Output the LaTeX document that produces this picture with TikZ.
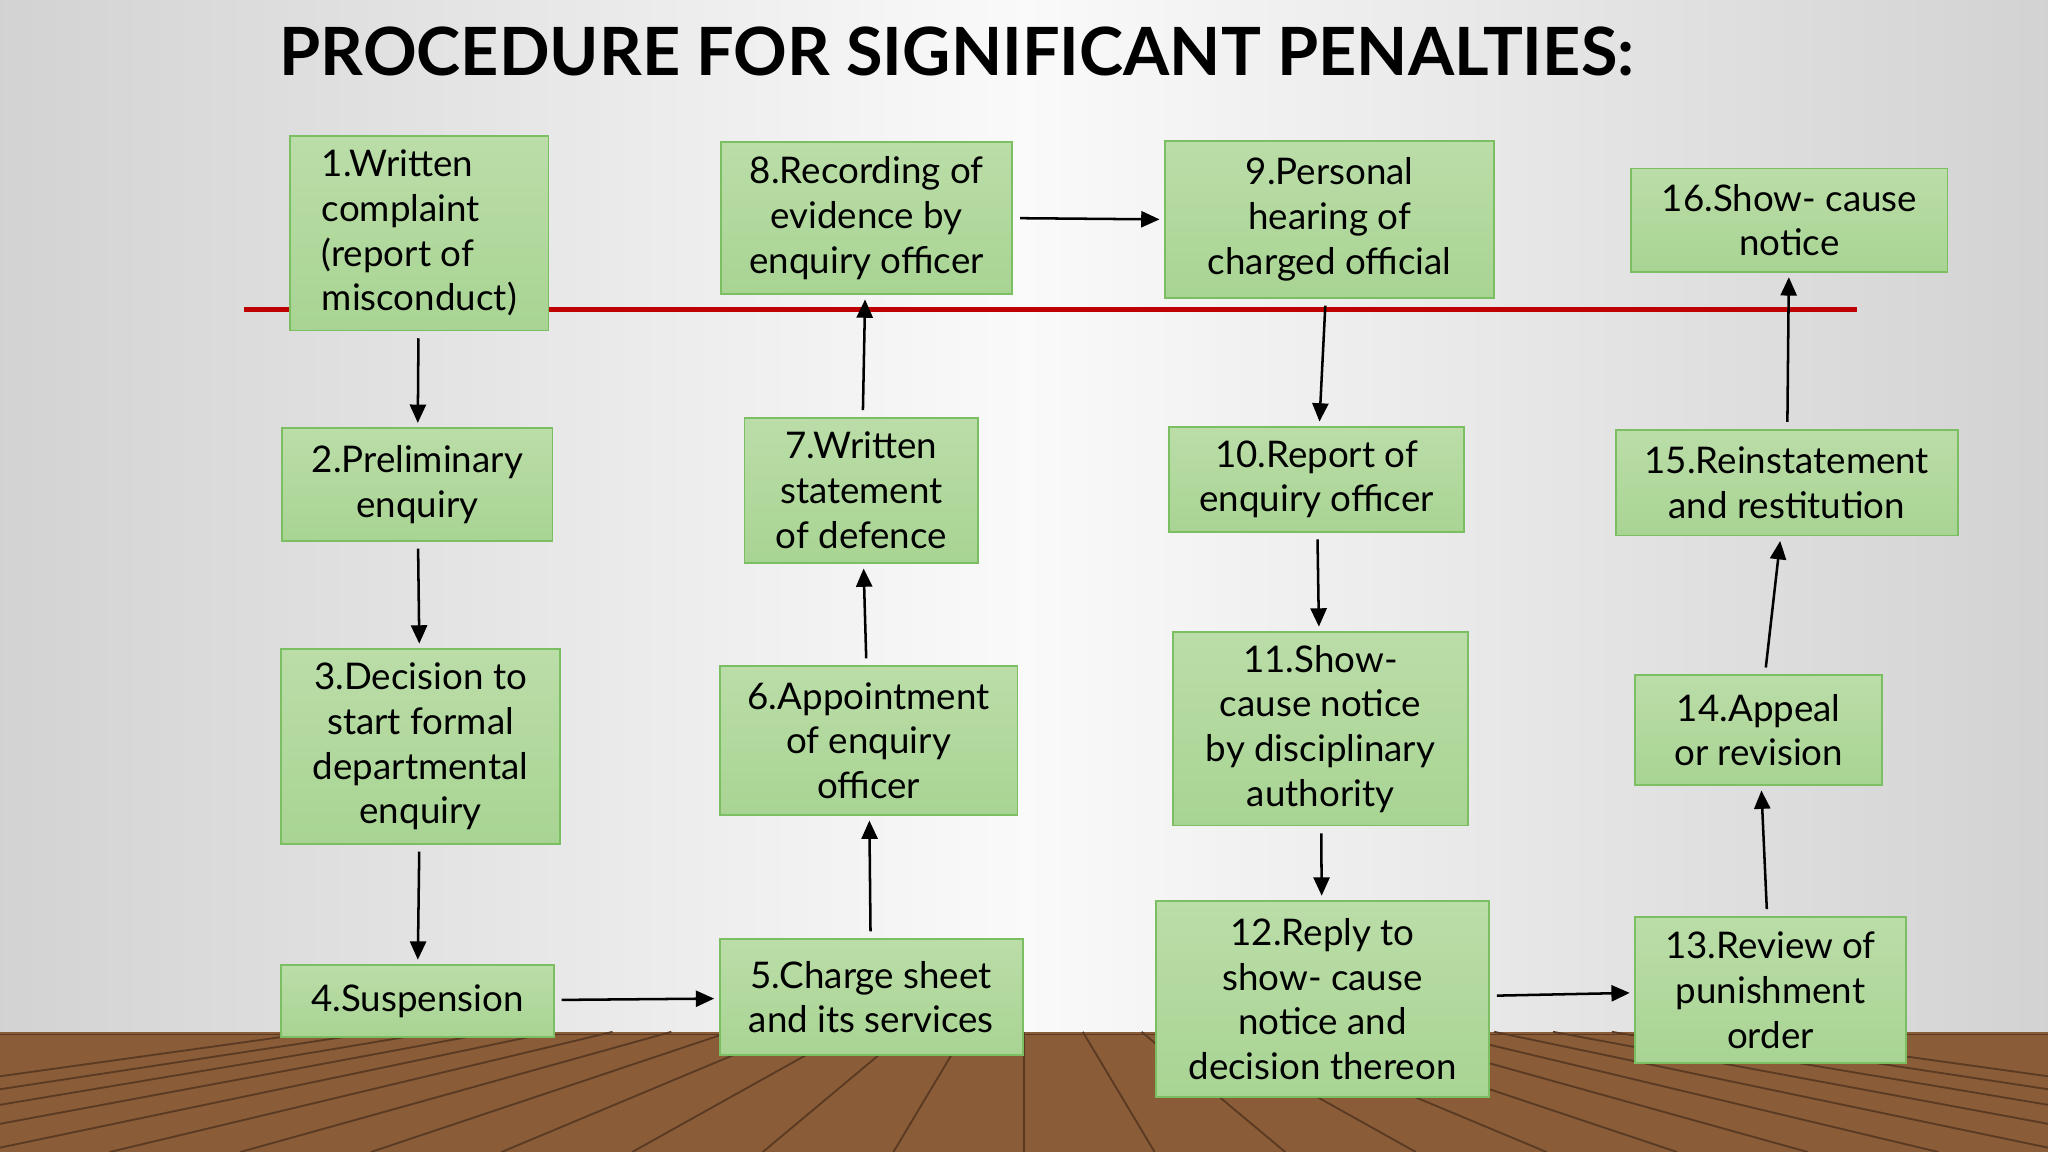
\documentclass[tikz,border=0pt]{standalone}
\usepackage{fontspec}
\setmainfont{Lato}
\usetikzlibrary{arrows.meta}
\definecolor{gtop}{HTML}{BBDDA8}
\definecolor{gbot}{HTML}{A8D493}
\definecolor{gline}{HTML}{7CBF62}
\definecolor{wood}{HTML}{8A5C38}
\definecolor{wooddark}{HTML}{5A3A22}
\begin{document}
\begin{tikzpicture}[x=0.02cm,y=-0.02cm,
  bx/.style={draw=gline, line width=0.8pt, top color=gtop, bottom color=gbot,
    align=center, inner sep=1pt, font=\fontsize{16}{19.5}\selectfont},
  arr/.style={-{Triangle[length=8pt,width=7pt]}, line width=1.1pt, shorten <=3pt, shorten >=2pt}]
\useasboundingbox (0,0) rectangle (1568,882);
\shade[left color=gray!35, right color=gray!35, middle color=gray!4] (0,0) rectangle (1568,790);
\fill[wood] (0,790) rectangle (1568,882);
\foreach \i in {-12,...,12} \draw[wooddark, line width=0.8pt] (784+\i*45,790) -- (784+\i*100,882);
\draw[wooddark] (0,792) -- (1568,792);
\draw[red!75!black, line width=2pt] (187,237) -- (1422,237);
\node[anchor=base west, font=\fontsize{29}{34}\selectfont\bfseries] (title) at (208,58) {PROCEDURE FOR SIGNIFICANT PENALTIES:};
\node[bx, align=left, minimum width=198*0.02cm, minimum height=149*0.02cm] (n1) at (321,178.5) {1.Written\\complaint\\(report of\\misconduct)};
\node[bx, minimum width=207*0.02cm, minimum height=86*0.02cm] (n2) at (319.5,371) {2.Preliminary\\enquiry};
\node[bx, minimum width=214*0.02cm, minimum height=149*0.02cm] (n3) at (322,571.5) {3.Decision to\\start formal\\departmental\\enquiry};
\node[bx, minimum width=209*0.02cm, minimum height=55*0.02cm] (n4) at (319.5,766.5) {4.Suspension};
\node[bx, minimum width=232*0.02cm, minimum height=89*0.02cm] (n5) at (667,763.5) {5.Charge sheet\\and its services};
\node[bx, minimum width=228*0.02cm, minimum height=114*0.02cm] (n6) at (665,567) {6.Appointment\\of enquiry\\officer};
\node[bx, minimum width=179*0.02cm, minimum height=111*0.02cm] (n7) at (659.5,375.5) {7.Written\\statement\\of defence};
\node[bx, minimum width=223*0.02cm, minimum height=116*0.02cm] (n8) at (663.5,167) {8.Recording of\\evidence by\\enquiry officer};
\node[bx, minimum width=252*0.02cm, minimum height=120*0.02cm] (n9) at (1018,168) {9.Personal\\hearing of\\charged official};
\node[bx, minimum width=226*0.02cm, minimum height=80*0.02cm] (n10) at (1008,367) {10.Report of\\enquiry officer};
\node[bx, minimum width=226*0.02cm, minimum height=148*0.02cm] (n11) at (1011,558) {11.Show-\\cause notice\\by disciplinary\\authority};
\node[bx, minimum width=255*0.02cm, minimum height=150*0.02cm] (n12) at (1012.5,765) {12.Reply to\\show- cause\\notice and\\decision thereon};
\node[bx, minimum width=207*0.02cm, minimum height=112*0.02cm] (n13) at (1355.5,758) {13.Review of\\punishment\\order};
\node[bx, minimum width=189*0.02cm, minimum height=84*0.02cm] (n14) at (1346.5,559) {14.Appeal\\or revision};
\node[bx, minimum width=262*0.02cm, minimum height=81*0.02cm] (n15) at (1368,369.5) {15.Reinstatement\\and restitution};
\node[bx, minimum width=242*0.02cm, minimum height=79*0.02cm] (n16) at (1370,168.5) {16.Show- cause\\notice};
\draw[arr] (n1) -- (n2);
\draw[arr] (n2) -- (n3);
\draw[arr] (n3) -- (n4);
\draw[arr] (n4) -- (n5);
\draw[arr] (n5) -- (n6);
\draw[arr] (n6) -- (n7);
\draw[arr] (n7) -- (n8);
\draw[arr] (n8.east) -- (n9.west);
\draw[arr] (n9) -- (n10);
\draw[arr] (n10) -- (n11);
\draw[arr] (n11) -- (n12);
\draw[arr] (n12) -- (n13);
\draw[arr] (n13) -- (n14);
\draw[arr] (n14) -- (n15);
\draw[arr] (n15) -- (n16);
\end{tikzpicture}
\end{document}
